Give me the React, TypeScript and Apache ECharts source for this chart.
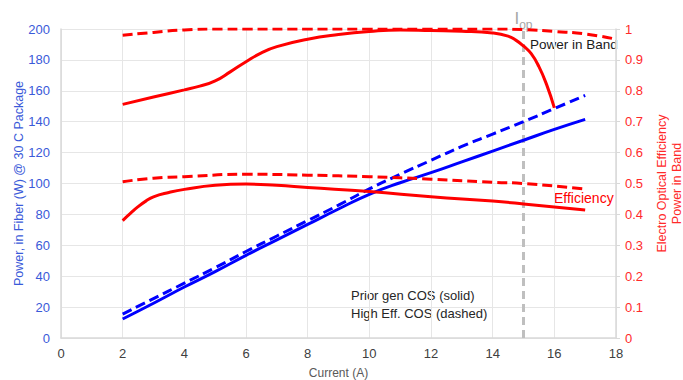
import React, { useEffect, useRef } from "react";
import * as echarts from "echarts";

// Current (A) values for each curve
const powerX = [2, 3, 4, 5, 6, 7, 8, 9, 10, 11, 12, 13, 14, 15, 16, 17];
const powerSolid = [12.3, 22.5, 33, 43, 53.5, 63.5, 73.5, 83.5, 93, 100.5, 107, 114, 121, 128, 135, 141.5];
const powerDashed = [15.5, 25.5, 35.5, 45.5, 56, 66, 76, 86, 96.5, 106, 115, 124, 132, 140, 148.5, 157];

const effSolidX = [2, 2.25, 2.5, 2.75, 3, 3.5, 4, 5, 6, 7, 8, 10, 12, 14, 15, 17];
const effSolid = [0.38, 0.403, 0.425, 0.443, 0.457, 0.471, 0.481, 0.494, 0.498, 0.494, 0.487, 0.474, 0.457, 0.443, 0.434, 0.414];
const effDashedX = [2, 3, 4, 6, 8, 10, 12, 14, 15, 17];
const effDashed = [0.506, 0.517, 0.522, 0.53, 0.527, 0.522, 0.514, 0.504, 0.5, 0.482];

const pibSolidX = [2, 3, 4, 4.5, 5, 5.5, 6, 6.5, 7, 8, 9, 10, 11, 12, 13, 14, 14.5, 14.75, 15, 15.25, 15.5, 15.75, 16];
const pibSolid = [0.756, 0.78, 0.803, 0.815, 0.832, 0.862, 0.894, 0.923, 0.943, 0.967, 0.982, 0.992, 0.997, 0.995, 0.993, 0.987, 0.977, 0.964, 0.945, 0.92, 0.878, 0.82, 0.745];
const pibDashedX = [2, 3, 4, 5, 6, 8, 10, 12, 14, 15, 16, 17, 18];
const pibDashed = [0.98, 0.989, 0.997, 1.0, 1.0, 1.0, 1.0, 1.0, 1.0, 0.998, 0.992, 0.984, 0.967];

const xTicks = { min: 0, max: 18, interval: 2 };
const leftTicks = { min: 0, max: 200, interval: 20 };
const rightTicks = { min: 0, max: 1, interval: 0.1 };
const iop = 15;

const zip = (xs: number[], ys: number[]) => xs.map((x, i) => [x, ys[i]]);

const RED = "#ff0000";
const BLUE = "#0000ff";
const FONT = "Liberation Sans, Arial, sans-serif";

export default function App() {
  const ref = useRef<HTMLDivElement>(null);
  useEffect(() => {
    if (!ref.current) return;
    document.body.style.margin = "0";
    const chart = echarts.init(ref.current, undefined, { renderer: "svg" });
    const dash = [10, 5];
    const line = (name: string, data: number[][], color: string, dashed: boolean, yIdx: number, extra: any = {}) => ({
      type: "line",
      name,
      data,
      yAxisIndex: yIdx,
      symbol: "none",
      smooth: 0.5,
      lineStyle: { color, width: 3, type: dashed ? dash : "solid" },
      z: 3,
      ...extra,
    });
    chart.setOption({
      animation: false,
      textStyle: { fontFamily: FONT },
      grid: { left: 61, right: 67, top: 29, bottom: 42, outerBoundsMode: "none", containLabel: false },
      xAxis: {
        type: "value",
        ...xTicks,
        name: "Current (A)",
        nameLocation: "middle",
        nameGap: 29,
        nameMoveOverlap: false,
        nameTextStyle: { color: "#595959", fontSize: 12, fontFamily: FONT },
        axisLine: { show: true, lineStyle: { color: "#d9d9d9", width: 1.5 } },
        axisTick: { show: false },
        axisLabel: { color: "#404040", fontSize: 13, margin: 9, fontFamily: FONT },
        splitLine: { show: true, lineStyle: { color: "#e6e6e6", width: 1 } },
      },
      yAxis: [
        {
          type: "value",
          ...leftTicks,
          position: "left",
          name: "Power, in Fiber (W) @ 30 C Package",
          nameLocation: "middle",
          nameGap: 36,
          nameMoveOverlap: false,
          nameTextStyle: { color: "#3a5ad9", fontSize: 12.5, fontFamily: FONT },
          axisLine: { show: true, lineStyle: { color: "#d9d9d9", width: 1.5 } },
          axisTick: { show: false },
          axisLabel: { color: "#3a5ad9", fontSize: 13, margin: 11, fontFamily: FONT },
          splitLine: { show: true, lineStyle: { color: "#e6e6e6", width: 1 } },
        },
        {
          type: "value",
          ...rightTicks,
          position: "right",
          name: "Electro Optical Efficiency\nPower in Band",
          nameLocation: "middle",
          nameGap: 38,
          nameTextStyle: { color: "#ff2a2a", fontSize: 12.5, lineHeight: 15, fontFamily: FONT },
          axisLine: { show: true, lineStyle: { color: "#d9d9d9", width: 1.5 } },
          axisTick: { show: true, length: 4, lineStyle: { color: "#d9d9d9" } },
          axisLabel: { color: "#ff2a2a", fontSize: 13, margin: 9, fontFamily: FONT },
          splitLine: { show: false },
        },
      ],
      series: [
        line("Power prior gen", zip(powerX, powerSolid), BLUE, false, 0),
        line("Power high eff", zip(powerX, powerDashed), BLUE, true, 0),
        line("Efficiency prior gen", zip(effSolidX, effSolid), RED, false, 1),
        line("Efficiency high eff", zip(effDashedX, effDashed), RED, true, 1),
        line("PIB prior gen", zip(pibSolidX, pibSolid), RED, false, 1),
        line("PIB high eff", zip(pibDashedX, pibDashed), RED, true, 1, {
          markLine: {
            silent: true,
            symbol: "none",
            z: 2,
            lineStyle: { color: "#bfbfbf", width: 3, type: [8, 5] },
            label: {
              show: true,
              position: "end",
              distance: 2,
              formatter: "{a|I}{b|op}",
              rich: {
                a: { fontSize: 17, color: "#a6a6a6", fontFamily: FONT, verticalAlign: "bottom" },
                b: { fontSize: 12, color: "#a6a6a6", fontFamily: FONT, verticalAlign: "bottom", padding: [0, 0, -4, 0] },
              },
            },
            data: [{ xAxis: iop }],
          },
        }),
      ],
      graphic: [
        { type: "text", left: 530, top: 37, style: { text: "Power in Band", fill: "#1a1a1a", font: `13.5px ${FONT}` } },
        { type: "text", left: 554, top: 191, style: { text: "Efficiency", fill: RED, font: `14px ${FONT}` } },
        { type: "text", left: 351, top: 289, style: { text: "Prior gen COS (solid)", fill: "#262626", font: `13px ${FONT}` } },
        { type: "text", left: 351, top: 307, style: { text: "High Eff. COS (dashed)", fill: "#262626", font: `13px ${FONT}` } },
      ],
    });
    return () => chart.dispose();
  }, []);
  return <div ref={ref} style={{ position: "absolute", left: 0, top: 0, width: 683, height: 380 }} />;
}
